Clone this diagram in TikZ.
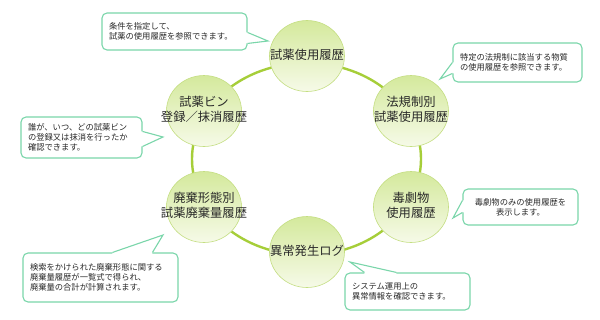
\documentclass[tikz,border=0pt]{standalone}
\usepackage{fontspec}
\setmainfont{Noto Sans CJK JP}
\usetikzlibrary{shapes.geometric,calc}
\definecolor{ringgreen}{RGB}{166,206,57}
\definecolor{circtop}{RGB}{212,233,156}
\definecolor{circbot}{RGB}{246,250,232}
\definecolor{circedge}{RGB}{196,222,130}
\definecolor{mint}{RGB}{122,214,170}
\definecolor{txt}{RGB}{40,40,40}
\newcommand\ctext[1]{\makebox[0pt]{\begin{tabular}{@{}c@{}}#1\end{tabular}}}
\begin{document}
\begin{tikzpicture}[x=1pt,y=-1pt,
  bubble/.style={ellipse, draw=circedge, line width=0.6pt, top color=circtop, bottom color=circbot,
    minimum width=75pt, minimum height=71pt, inner sep=0pt, font=\fontsize{12.3}{15}\selectfont, text=txt},
  callout/.style={draw=mint, line width=1.1pt, fill=white, rounded corners=5pt, inner xsep=7pt, inner ysep=0pt,
    align=left, font=\fontsize{8.3}{9.8}\selectfont, text=txt},
  ptr/.style={draw=mint, line width=1.1pt, line join=miter},
  ring/.style={draw=ringgreen, line width=2.4pt}
]
\useasboundingbox (0,0) rectangle (600,319);
\fill[white] (0,0) rectangle (600,319);

% ring
\coordinate (ringc) at (306.5,159);
\draw[ring] (ringc) ellipse [x radius=114.5, y radius=96];

% circles
\node[bubble] (n1) at (307,56) {\ctext{試薬使用履歴}};
\node[bubble] (n2) at (411,111) {\ctext{法規制別\\試薬使用履歴}};
\node[bubble] (n3) at (411,207) {\ctext{毒劇物\\使用履歴}};
\node[bubble] (n4) at (307,252) {\ctext{異常発生ログ}};
\node[bubble] (n5) at (204,207) {\ctext{廃棄形態別\\試薬廃棄量履歴}};
\node[bubble] (n6) at (204,111) {\ctext{試薬ビン\\登録／抹消履歴}};

% callouts
\node[callout, text width=131pt, minimum height=37pt] (c1) at (174.5,31.5) {条件を指定して、\\試薬の使用履歴を参照できます。};
\node[callout, text width=115pt, minimum height=39pt] (c2) at (517.5,62.5) {特定の法規制に該当する物質\\の使用履歴を参照できます。};
\node[callout, text width=107pt, minimum height=41pt] (c3) at (81.5,137.5) {誰が、いつ、どの試薬ビン\\の登録又は抹消を行ったか\\確認できます。};
\node[callout, text width=101pt, minimum height=36pt, align=center] (c4) at (520.5,207) {毒劇物のみの使用履歴を\\表示します。};
\node[callout, text width=141pt, minimum height=49pt] (c5) at (100.5,277.5) {検索をかけられた廃棄形態に関する\\廃棄量履歴が一覧式で得られ、\\廃棄量の合計が計算されます。};
\node[callout, text width=111pt, minimum height=37pt] (c6) at (407.5,291.5) {システム運用上の\\異常情報を確認できます。};

% pointer tips
\coordinate (t1) at (268,41);
\coordinate (t2) at (440,79);
\coordinate (t3) at (163,137);
\coordinate (t4) at (453,218);
\coordinate (t5) at (163,235);
\coordinate (t6) at (350,262);

% pointer 1 (right edge)
\fill[white] ($(c1.north east)+(-1.5,20)$) -- ($(c1.north east)+(0,20)$) -- (t1) -- ($(c1.north east)+(0,31)$) -- ($(c1.north east)+(-1.5,31)$) -- cycle;
\draw[ptr] ($(c1.north east)+(0,20)$) -- (t1) -- ($(c1.north east)+(0,31)$);
% pointer 2 (left edge)
\fill[white] ($(c2.north west)+(1.5,20)$) -- ($(c2.north west)+(0,20)$) -- (t2) -- ($(c2.north west)+(0,31)$) -- ($(c2.north west)+(1.5,31)$) -- cycle;
\draw[ptr] ($(c2.north west)+(0,20)$) -- (t2) -- ($(c2.north west)+(0,31)$);
% pointer 3 (right edge)
\fill[white] ($(c3.north east)+(-1.5,15)$) -- ($(c3.north east)+(0,15)$) -- (t3) -- ($(c3.north east)+(0,30)$) -- ($(c3.north east)+(-1.5,30)$) -- cycle;
\draw[ptr] ($(c3.north east)+(0,15)$) -- (t3) -- ($(c3.north east)+(0,30)$);
% pointer 4 (left edge)
\fill[white] ($(c4.north west)+(1.5,12)$) -- ($(c4.north west)+(0,12)$) -- (t4) -- ($(c4.north west)+(0,24)$) -- ($(c4.north west)+(1.5,24)$) -- cycle;
\draw[ptr] ($(c4.north west)+(0,12)$) -- (t4) -- ($(c4.north west)+(0,24)$);
% pointer 5 (top edge)
\fill[white] ($(c5.north west)+(90,1.5)$) -- ($(c5.north west)+(90,0)$) -- (t5) -- ($(c5.north west)+(130,0)$) -- ($(c5.north west)+(130,1.5)$) -- cycle;
\draw[ptr] ($(c5.north west)+(90,0)$) -- (t5) -- ($(c5.north west)+(130,0)$);
% pointer 6 (top edge)
\fill[white] ($(c6.north west)+(20,1.5)$) -- ($(c6.north west)+(20,0)$) -- (t6) -- ($(c6.north west)+(52,0)$) -- ($(c6.north west)+(52,1.5)$) -- cycle;
\draw[ptr] ($(c6.north west)+(20,0)$) -- (t6) -- ($(c6.north west)+(52,0)$);
\end{tikzpicture}
\end{document}
